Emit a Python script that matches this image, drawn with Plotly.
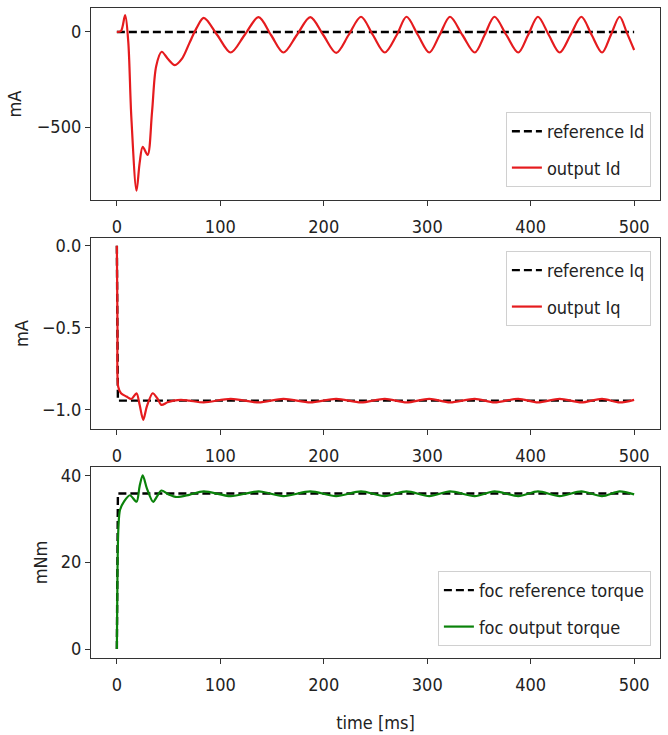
import plotly.graph_objects as go
from plotly.subplots import make_subplots

# ---------------- data ----------------
id_ref_t = [0, 500]
id_ref_v = [0, 0]

id_out_t = [0, 4, 8, 11, 14, 19, 22, 25, 29.7, 34, 38, 43.3, 49, 56, 63, 70, 77, 84,
            97, 110, 123.5, 137, 149, 161, 174, 187, 199.5, 212, 224, 236, 247.5, 259,
            270.5, 280, 291, 302, 312, 322, 334, 346, 355.5, 365, 376.5, 388, 397.5,
            407, 417.5, 428, 438.5, 449, 459, 469, 477.5, 486, 493, 500]
id_out_v = [0, 5, 88, -50, -450, -835, -690, -604, -647, -420, -180, -104, -140, -174,
            -140, -60, 20, 74,
            -16, -108, -16, 78, -16, -108, -16, 78, -16, -110, -16, 80, -16, -108,
            -16, 80, -16, -108, -16, 80, -16, -108, -16, 80, -16, -108, -16,
            80, -16, -108, -16, 80, -16, -108, -16, 80, -5, -95]

iq_ref_t = [0, 1, 500]
iq_ref_v = [0, -0.945, -0.945]

iq_out_t = [0, 0.6, 1.3, 4, 9.3, 14, 19, 22, 25.5, 29, 34.6, 39, 43, 49, 55, 62, 70,
            84, 110, 137, 161, 187, 212, 236, 259, 280, 302, 322, 346, 365, 388, 407,
            428, 449, 469, 486, 500]
iq_out_v = [0, -0.5, -0.86, -0.9, -0.92, -0.935, -0.90, -0.97, -1.063, -0.98, -0.90,
            -0.93, -0.971, -0.955, -0.945, -0.94, -0.945,
            -0.956, -0.934, -0.956, -0.934, -0.956, -0.934, -0.956, -0.934, -0.956,
            -0.934, -0.956, -0.934, -0.956, -0.934, -0.956, -0.934, -0.956, -0.934,
            -0.956, -0.94]

tq_ref_t = [0, 1, 500]
tq_ref_v = [0, 35.8, 35.8]

tq_out_t = [0, 0.6, 1.5, 3, 7, 12.6, 19, 22, 25, 29, 35, 39, 43, 50, 58, 70,
            84, 110, 137, 161, 187, 212, 236, 259, 280, 302, 322, 346, 365, 388, 407,
            428, 449, 469, 486, 500]
tq_out_v = [0, 18, 28, 32, 34, 35.4, 33.9, 37.5, 40, 37, 33.9, 35.2, 36.5, 35.6, 35.0,
            35.5,
            36.3, 35.2, 36.3, 35.2, 36.3, 35.2, 36.3, 35.2, 36.3, 35.2, 36.3, 35.2,
            36.3, 35.2, 36.3, 35.2, 36.3, 35.2, 36.3, 35.6]

x_ticks = [0, 100, 200, 300, 400, 500]

# ---------------- figure ----------------
FONT = "DejaVu Sans Condensed, Liberation Sans Narrow, DejaVu Sans, sans-serif"
FS = 18
RED = "#e51b1e"
GREEN = "#0a820a"
DASH = "8px,4px"

fig = make_subplots(rows=3, cols=1, shared_xaxes=False, vertical_spacing=0.06)

fig.add_trace(go.Scatter(x=id_ref_t, y=id_ref_v, mode="lines", name="reference Id",
                         line=dict(color="black", width=2.4, dash=DASH),
                         legend="legend", legendgroup="a"), row=1, col=1)
fig.add_trace(go.Scatter(x=id_out_t, y=id_out_v, mode="lines", name="output Id",
                         line=dict(color=RED, width=2.2, shape="spline", smoothing=0.9),
                         legend="legend", legendgroup="b"), row=1, col=1)

fig.add_trace(go.Scatter(x=iq_ref_t, y=iq_ref_v, mode="lines", name="reference Iq",
                         line=dict(color="black", width=2.4, dash=DASH),
                         legend="legend2", legendgroup="c"), row=2, col=1)
fig.add_trace(go.Scatter(x=iq_out_t, y=iq_out_v, mode="lines", name="output Iq",
                         line=dict(color=RED, width=2.2, shape="spline", smoothing=0.8),
                         legend="legend2", legendgroup="d"), row=2, col=1)

fig.add_trace(go.Scatter(x=tq_ref_t, y=tq_ref_v, mode="lines", name="foc reference torque",
                         line=dict(color="black", width=2.4, dash=DASH),
                         legend="legend3", legendgroup="e"), row=3, col=1)
fig.add_trace(go.Scatter(x=tq_out_t, y=tq_out_v, mode="lines", name="foc output torque",
                         line=dict(color=GREEN, width=2.2, shape="spline", smoothing=0.8),
                         legend="legend3", legendgroup="f"), row=3, col=1)

axis_common = dict(showline=True, linecolor="#333", linewidth=1.3, mirror=True,
                   ticks="outside", ticklen=5, tickwidth=1.2, tickcolor="#333",
                   showgrid=False, zeroline=False, automargin=False,
                   tickfont=dict(family=FONT, size=FS, color="#222"))

for r in (1, 2, 3):
    fig.update_xaxes(range=[-25, 525], tickvals=x_ticks, ticklabelstandoff=5,
                     row=r, col=1, **axis_common)

title_font = dict(family=FONT, size=FS, color="#222")
fig.update_yaxes(range=[-884, 126], tickvals=[-500, 0], row=1, col=1,
                 title=dict(text="mA", standoff=10, font=title_font), **axis_common)
fig.update_yaxes(range=[-1.118, 0.047], tickvals=[-1.0, -0.5, 0.0], tickformat=".1f",
                 row=2, col=1,
                 title=dict(text="mA", standoff=8, font=title_font), **axis_common)
fig.update_yaxes(range=[-2.06, 41.9], tickvals=[0, 20, 40], row=3, col=1,
                 title=dict(text="mNm", standoff=8, font=title_font), **axis_common)
fig.update_xaxes(row=3, col=1,
                 title=dict(text="time [ms]", standoff=22, font=title_font))

# domains in pixel terms: plot area y 8..658 (650 px)
fig.update_layout(
    yaxis=dict(domain=[0.7046, 1.0]),
    yaxis2=dict(domain=[0.3523, 0.6462]),
    yaxis3=dict(domain=[0.0, 0.2938]),
)

legend_common = dict(bgcolor="rgba(255,255,255,0.85)", bordercolor="#d0d0d0", borderwidth=1,
                     font=dict(family=FONT, size=FS, color="#222"), traceorder="grouped",
                     tracegroupgap=10, xanchor="right", x=0.984, itemwidth=30)

fig.update_layout(
    width=668, height=735,
    margin=dict(l=91, r=8, t=8, b=77),
    plot_bgcolor="white", paper_bgcolor="white",
    showlegend=True,
    legend=dict(y=0.84, yanchor="top", **legend_common),
    legend2=dict(y=0.6262, yanchor="top", **legend_common),
    legend3=dict(y=0.0185, yanchor="bottom", **legend_common),
)

fig.write_html("out.html", config={"displayModeBar": False},
               post_script="document.body.style.margin='0';")
